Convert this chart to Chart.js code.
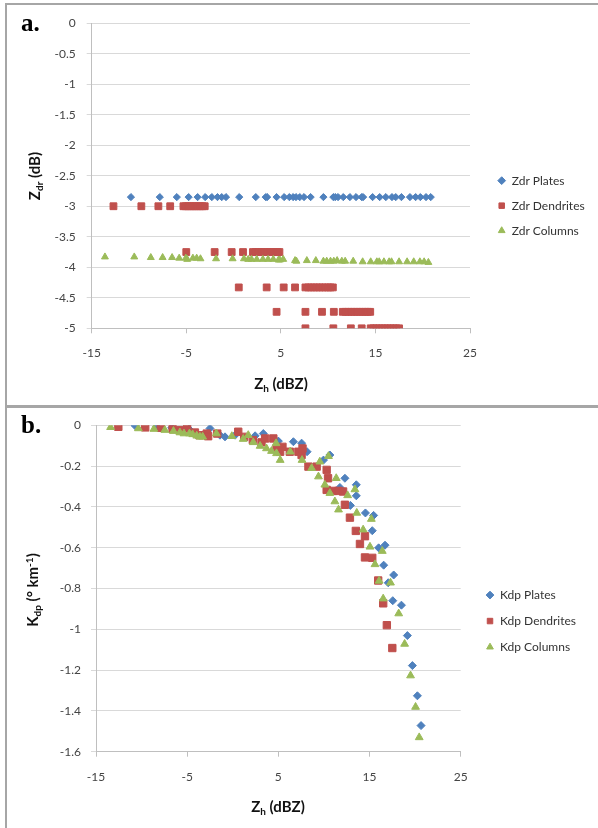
<!DOCTYPE html>
<html>
<head>
<meta charset="utf-8">
<script src="https://cdn.jsdelivr.net/npm/chart.js@4/dist/chart.umd.min.js"></script>
<style>
  body { margin: 0; background: #fff; width: 598px; height: 828px; overflow: hidden; position: relative; font-family: Lato, sans-serif; }
  .panel { position: absolute; left: 5px; width: 610px; border: 2px solid #a6a6a6; box-sizing: border-box; }
  #panelA { top: 3px; height: 404px; }
  #panelB { top: 406px; height: 430px; }
  canvas { position: absolute; left: 0; top: 0; }
  .tag { position: absolute; font: bold 25px "Liberation Serif", serif; color: #000; }
  .axtitle { position: absolute; font: bold 15px Lato, sans-serif; color: #111; white-space: nowrap; transform: translate(-50%, -50%); }
  .axtitle.rot { transform: translate(-50%, -50%) rotate(-90deg); }
  .axtitle sub { font-size: 10px; vertical-align: -3px; }
  .axtitle sup { font-size: 10px; vertical-align: 5px; }
</style>
</head>
<body>
<div class="panel" id="panelA"><canvas id="chartA" width="591" height="400"></canvas></div>
<div class="panel" id="panelB"><canvas id="chartB" width="591" height="420"></canvas></div>

<div class="tag" style="left:21px; top:9px;">a.</div>
<div class="tag" style="left:21px; top:411px;">b.</div>
<div class="axtitle" style="left:281px; top:384px;">Z<sub>h</sub> (dBZ)</div>
<div class="axtitle rot" style="left:35px; top:176px;">Z<sub>dr</sub> (dB)</div>
<div class="axtitle" style="left:278px; top:807px;">Z<sub>h</sub> (dBZ)</div>
<div class="axtitle rot" style="left:33px; top:590px;">K<sub>dp</sub> (° km<sup>-1</sup>)</div>

<script>
"use strict";

// ---- panel a: Zdr vs Zh  ([Zh, Zdr]) ----
const zdrPlates = [
  [-10.85,-2.85],[-7.8,-2.85],[-6.0,-2.85],[-4.75,-2.85],[-3.8,-2.85],[-3.0,-2.85],[-2.3,-2.85],
  [-1.7,-2.85],[-1.25,-2.85],[-0.8,-2.85],[0.6,-2.85],[2.35,-2.85],[3.4,-2.85],[3.55,-2.85],
  [4.55,-2.85],[5.35,-2.85],[5.9,-2.85],[6.3,-2.85],[6.6,-2.85],[7.0,-2.85],[7.45,-2.85],
  [8.15,-2.85],[9.5,-2.85],[10.55,-2.85],[10.75,-2.85],[11.05,-2.85],[11.6,-2.85],[12.3,-2.85],
  [12.95,-2.85],[13.55,-2.85],[13.7,-2.85],[14.7,-2.85],[15.45,-2.85],[16.1,-2.85],[16.75,-2.85],
  [17.15,-2.85],[17.75,-2.85],[18.65,-2.85],[19.25,-2.85],[19.75,-2.85],[20.35,-2.85],[20.85,-2.85]
];
const zdrDendrites = [
  [-12.7,-3.0],[-9.75,-3.0],[-7.95,-3.0],[-6.7,-3.0],[-5.3,-3.0],[-5.05,-3.0],[-4.8,-3.0],[-4.55,-3.0],
  [-4.3,-3.0],[-4.05,-3.0],[-3.8,-3.0],[-3.55,-3.0],[-3.3,-3.0],[-3.05,-3.0],
  [-5.0,-3.75],[-2.0,-3.75],[-0.2,-3.75],[1.0,-3.75],[2.05,-3.75],[2.35,-3.75],[2.65,-3.75],[2.95,-3.75],
  [3.25,-3.75],[3.55,-3.75],[3.85,-3.75],[4.15,-3.75],[4.45,-3.75],[4.65,-3.75],[4.85,-3.75],
  [0.55,-4.33],[3.5,-4.33],[5.3,-4.33],[6.5,-4.33],[7.6,-4.33],[7.9,-4.33],[8.2,-4.33],[8.5,-4.33],
  [8.8,-4.33],[9.1,-4.33],[9.4,-4.33],[9.7,-4.33],[10.0,-4.33],[10.25,-4.33],[10.5,-4.33],
  [4.55,-4.73],[7.6,-4.73],[9.35,-4.73],[10.6,-4.73],[11.55,-4.73],[11.85,-4.73],[12.15,-4.73],[12.45,-4.73],
  [12.75,-4.73],[13.05,-4.73],[13.35,-4.73],[13.65,-4.73],[13.95,-4.73],[14.2,-4.73],[14.45,-4.73],
  [7.6,-5.0],[10.55,-5.0],[12.4,-5.0],[13.55,-5.0],[14.5,-5.0],[14.8,-5.0],[15.1,-5.0],[15.4,-5.0],
  [15.7,-5.0],[16.0,-5.0],[16.3,-5.0],[16.6,-5.0],[16.9,-5.0],[17.2,-5.0],[17.5,-5.0]
];
const zdrColumns = [
  [-13.6,-3.83],[-10.5,-3.83],[-8.75,-3.84],[-7.5,-3.84],[-6.5,-3.84],[-5.75,-3.85],[-5.05,-3.85],
  [-4.9,-3.87],[-4.3,-3.85],[-3.9,-3.85],[-3.5,-3.86],[-1.85,-3.86],[-0.1,-3.86],[1.1,-3.86],
  [1.55,-3.87],[1.9,-3.87],[2.45,-3.87],[3.1,-3.87],[3.65,-3.87],[4.2,-3.87],[4.75,-3.88],
  [4.9,-3.88],[5.25,-3.87],[6.5,-3.89],[6.65,-3.9],[7.75,-3.89],[8.7,-3.89],[9.5,-3.9],
  [9.85,-3.9],[10.25,-3.9],[10.6,-3.9],[10.95,-3.89],[11.45,-3.9],[11.8,-3.9],[12.65,-3.9],
  [13.65,-3.91],[14.5,-3.91],[15.15,-3.91],[15.4,-3.91],[15.9,-3.91],[16.45,-3.91],[16.7,-3.91],
  [17.5,-3.91],[18.35,-3.91],[19.05,-3.91],[19.7,-3.91],[20.15,-3.91],[20.6,-3.92]
];

// ---- panel b: Kdp vs Zh  ([Zh, Kdp]) ----
const kdpPlates = [
  [-10.7,-0.003],[-8.35,-0.008],[-6.7,-0.013],[-4.8,-0.019],[-2.5,-0.016],[-1.4,-0.049],[-0.85,-0.057],
  [0.25,-0.049],[2.45,-0.052],[3.35,-0.041],[5.0,-0.078],[6.65,-0.081],[7.55,-0.088],[8.15,-0.13],
  [9.95,-0.171],[10.65,-0.146],[11.75,-0.305],[12.3,-0.26],[13.55,-0.292],[13.55,-0.346],[12.9,-0.393],
  [14.55,-0.43],[15.45,-0.442],[15.3,-0.517],[16.0,-0.601],[16.7,-0.588],[16.55,-0.686],[17.65,-0.734],
  [17.05,-0.772],[17.55,-0.86],[18.5,-0.882],[19.15,-1.031],[19.7,-1.178],[20.25,-1.326],[20.65,-1.472]
];
const kdpDendrites = [
  [-12.55,-0.008],[-9.6,-0.011],[-7.9,-0.013],[-6.6,-0.019],[-5.8,-0.024],[-5.0,-0.016],[-4.15,-0.036],
  [-3.65,-0.049],[-2.85,-0.041],[-2.7,-0.054],[-1.7,-0.041],[0.6,-0.032],[1.25,-0.057],[2.2,-0.073],
  [3.15,-0.084],[3.55,-0.065],[4.45,-0.065],[4.8,-0.114],[5.2,-0.13],[5.45,-0.106],[6.25,-0.13],
  [7.2,-0.13],[7.55,-0.146],[7.65,-0.114],[8.3,-0.203],[9.2,-0.203],[10.3,-0.219],[10.45,-0.26],
  [10.3,-0.317],[11.0,-0.322],[11.6,-0.322],[12.1,-0.325],[12.3,-0.39],[12.85,-0.453],[13.5,-0.518],
  [13.95,-0.582],[14.5,-0.544],[14.5,-0.648],[15.3,-0.65],[15.95,-0.761],[16.5,-0.873],[16.9,-0.98],
  [17.5,-1.092]
];
const kdpColumns = [
  [-13.4,-0.01],[-10.35,-0.016],[-8.65,-0.019],[-7.45,-0.024],[-6.5,-0.029],[-5.8,-0.036],[-5.35,-0.041],
  [-4.75,-0.041],[-4.4,-0.045],[-3.95,-0.052],[-3.6,-0.057],[-3.3,-0.057],[-1.8,-0.041],[-0.1,-0.054],
  [1.15,-0.068],[1.7,-0.049],[2.25,-0.084],[3.0,-0.102],[3.7,-0.114],[4.25,-0.127],[4.75,-0.089],
  [4.8,-0.138],[5.2,-0.171],[6.3,-0.13],[7.6,-0.171],[8.65,-0.211],[9.4,-0.252],[9.55,-0.179],
  [10.5,-0.152],[10.1,-0.292],[10.65,-0.333],[11.2,-0.374],[11.6,-0.414],[11.35,-0.26],[12.6,-0.344],
  [13.4,-0.315],[13.6,-0.43],[14.3,-0.512],[15.2,-0.46],[15.05,-0.596],[16.4,-0.617],[15.6,-0.682],
  [16.05,-0.763],[17.3,-0.772],[16.5,-0.85],[18.2,-0.923],[18.85,-1.072],[19.5,-1.227],[20.05,-1.381],
  [20.45,-1.53]
];

// ---- tick values ----
const zhTicks = [-15, -5, 5, 15, 25];
const zdrTicks = [0, -0.5, -1, -1.5, -2, -2.5, -3, -3.5, -4, -4.5, -5];
const kdpTicks = [0, -0.2, -0.4, -0.6, -0.8, -1, -1.2, -1.4, -1.6];

const BLUE = '#4F81BD', RED = '#C0504D', GREEN = '#9BBB59';
const TICK_FONT = { family: 'Lato', size: 12 };

// moves the legend box after layout so it sits where the original one is,
// and lets it run to the canvas edge so the labels are not clipped
const legendShift = {
  id: 'legendShift',
  afterLayout(chart, args, opts) {
    const lg = chart.legend;
    if (!lg) return;
    lg.left += opts.dx;
    lg.right = chart.width;
    lg.width = lg.right - lg.left;
    lg.top += opts.dy; lg.bottom += opts.dy;
  }
};

function toXY(pairs) {
  return pairs.map(([x, y]) => ({ x, y }));
}

function series(label, pairs, color, style, radius, order) {
  return {
    label,
    data: toXY(pairs),
    pointStyle: style,
    pointRadius: radius,
    backgroundColor: color,
    borderColor: color,
    borderWidth: 1,
    order,
  };
}

function makeChart(id, datasets, yTicks, cfg) {
  return new Chart(document.getElementById(id), {
    type: 'scatter',
    data: { datasets },
    plugins: [legendShift],
    options: {
      responsive: false,
      animation: false,
      layout: { padding: { left: 0, top: cfg.padTop, right: cfg.padRight, bottom: 0 } },
      plugins: {
        tooltip: { enabled: false },
        legend: {
          position: 'right',
          reverse: true,
          maxWidth: 90,
          labels: {
            usePointStyle: true,
            boxWidth: 8,
            boxHeight: 5.5,
            padding: cfg.legendPad,
            color: '#333',
            font: { family: 'Lato', size: 12 },
          },
        },
        legendShift: { dx: cfg.legendDx, dy: cfg.legendDy },
      },
      scales: {
        x: {
          type: 'linear',
          position: 'bottom',
          min: -15,
          max: 25,
          afterBuildTicks: s => { s.ticks = zhTicks.map(v => ({ value: v })); },
          afterFit: s => { s.height = cfg.xHeight; },
          ticks: { padding: 13, color: '#444', font: TICK_FONT, maxRotation: 0, callback: v => String(v) },
          grid: { drawOnChartArea: false, tickLength: 5, color: '#bfbfbf' },
          border: { color: '#bfbfbf' },
        },
        y: {
          type: 'linear',
          position: 'left',
          min: yTicks[yTicks.length - 1],
          max: 0,
          afterBuildTicks: s => { s.ticks = yTicks.map(v => ({ value: v })); },
          afterFit: s => { s.width = cfg.yWidth; },
          ticks: { padding: cfg.yPad, color: '#444', font: TICK_FONT, callback: v => String(v) },
          grid: { tickLength: 5, color: '#d9d9d9' },
          border: { color: '#bfbfbf' },
        },
      },
    },
  });
}

makeChart('chartA', [
  series('Zdr Plates', zdrPlates, BLUE, 'rectRot', 3.6, 2),
  series('Zdr Dendrites', zdrDendrites, RED, 'rect', 4.8, 1),
  series('Zdr Columns', zdrColumns, GREEN, 'triangle', 4, 0),
], zdrTicks, {
  padTop: 13.3, padRight: 38, xHeight: 76.7, yWidth: 84.7, yPad: 11,
  legendPad: 13, legendDx: 14.7, legendDy: -6,
});

makeChart('chartB', [
  series('Kdp Plates', kdpPlates, BLUE, 'rectRot', 4, 2),
  series('Kdp Dendrites', kdpDendrites, RED, 'rect', 5.2, 1),
  series('Kdp Columns', kdpColumns, GREEN, 'triangle', 4.5, 0),
], kdpTicks, {
  padTop: 15.3, padRight: 47.3, xHeight: 76.3, yWidth: 89, yPad: 10,
  legendPad: 14, legendDx: 11.3, legendDy: -4.6,
});
</script>
</body>
</html>
